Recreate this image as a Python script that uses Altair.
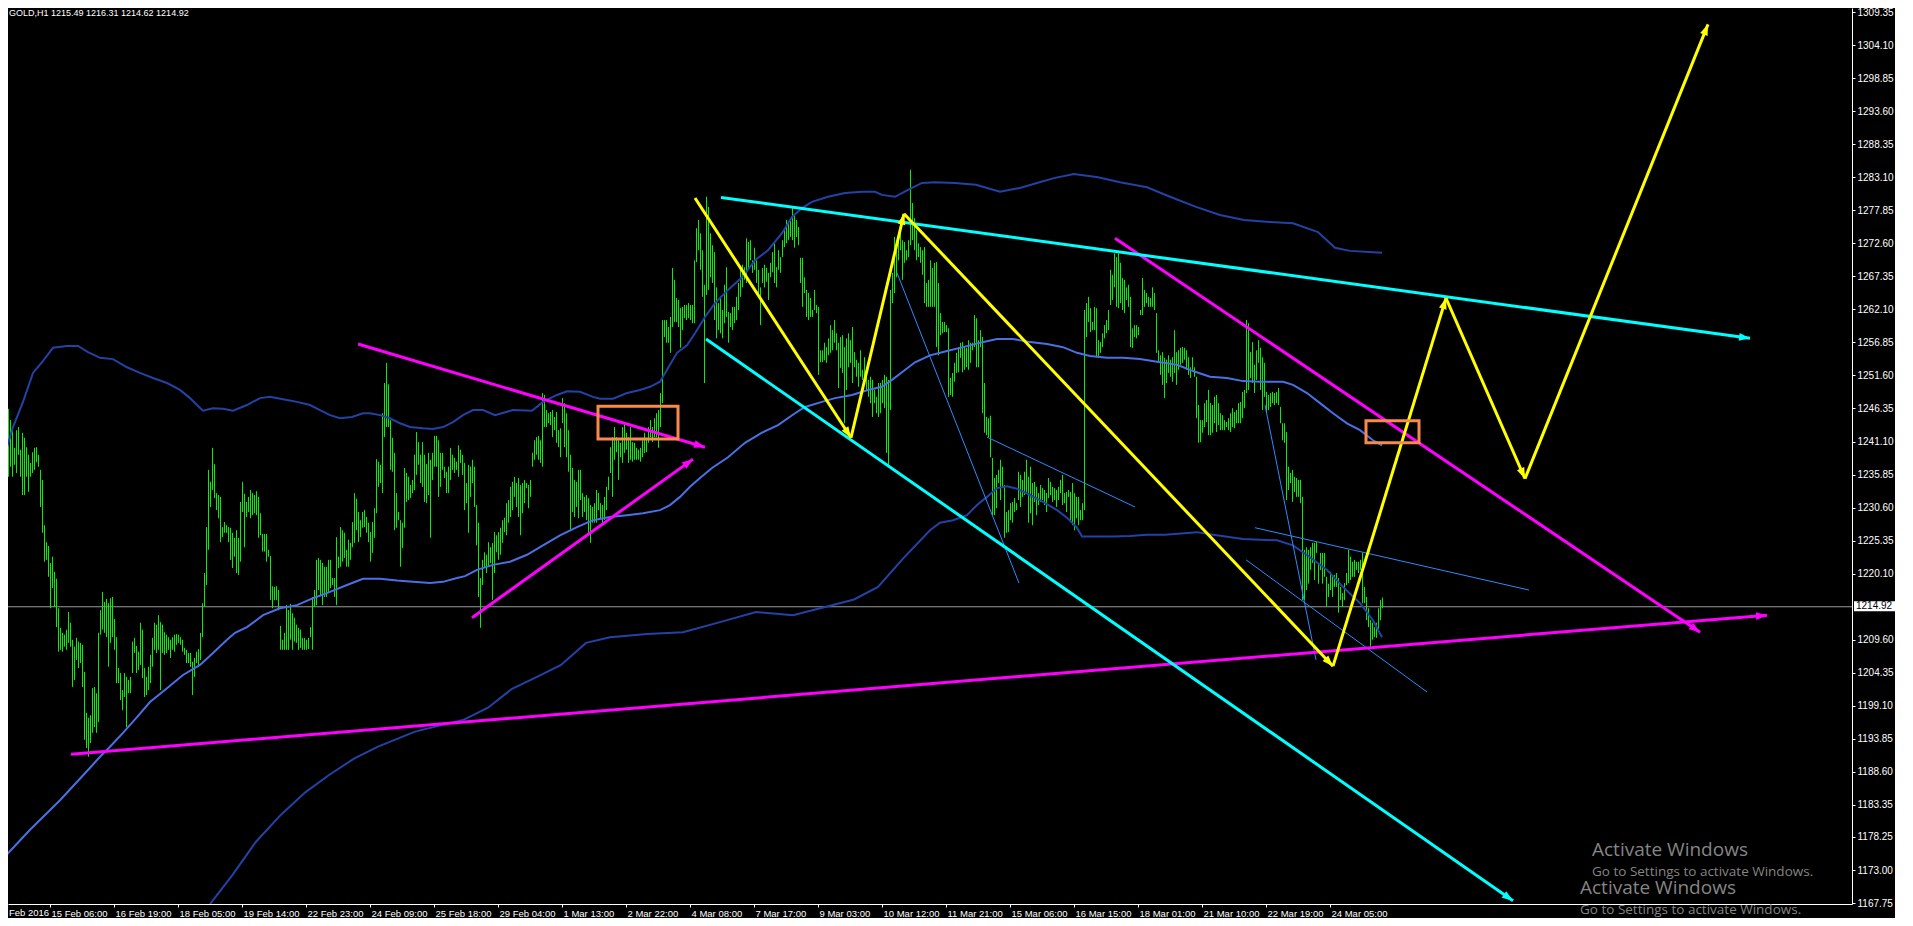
import math
import altair as alt
import pandas as pd

# ---------------- data ----------------
SYMBOL = "GOLD,H1"
LAST_OPEN, LAST_HIGH, LAST_LOW, LAST_CLOSE = 1215.49, 1216.31, 1214.62, 1214.92

# hourly bar highs / lows (bar index 0 .. 691)
HIGH = [
1239.0,1238.6,1238.4,1240.1,1246.3,1244.5,1242.9,1240.1,1242.9,1243.4,
1239.8,1242.5,1241.7,1240.2,1239.0,1237.7,1239.4,1240.1,1240.2,1239.0,
1236.6,1235.0,1227.8,1225.1,1224.5,1221.8,1222.8,1220.4,1219.3,1214.6,
1211.5,1210.7,1210.4,1211.2,1214.0,1212.3,1209.6,1208.5,1209.9,1209.3,
1209.1,1208.8,1204.5,1198.0,1197.2,1197.6,1201.9,1202.1,1201.1,1210.7,
1214.3,1217.2,1215.6,1216.1,1215.4,1216.2,1216.4,1212.9,1210.0,1205.1,
1204.3,1201.6,1204.3,1203.7,1203.2,1203.7,1209.3,1209.9,1208.6,1207.7,
1212.3,1211.2,1205.1,1203.7,1205.3,1207.2,1209.9,1212.3,1212.0,1213.5,
1212.4,1212.0,1210.8,1210.4,1210.0,1209.6,1210.0,1210.4,1210.5,1210.4,
1210.0,1209.6,1208.3,1208.0,1207.5,1207.5,1206.1,1206.7,1207.7,1208.1,
1210.7,1215.4,1220.2,1227.5,1236.6,1234.7,1240.1,1237.5,1232.9,1232.6,
1232.3,1227.5,1228.3,1227.8,1227.5,1227.4,1226.6,1225.8,1227.0,1225.8,
1231.5,1234.7,1232.8,1231.5,1232.3,1233.4,1232.9,1232.6,1233.2,1232.3,
1229.7,1226.4,1226.4,1226.4,1223.9,1222.9,1218.1,1218.0,1218.1,1217.5,
1211.8,1209.6,1210.7,1215.1,1214.3,1215.3,1213.8,1213.1,1212.0,1211.5,
1211.2,1209.9,1209.9,1209.6,1209.9,1211.6,1216.4,1217.5,1222.3,1222.6,
1222.3,1221.8,1221.2,1221.2,1222.3,1222.3,1219.4,1219.4,1225.9,1222.8,
1227.5,1227.0,1226.6,1223.9,1225.5,1225.0,1228.3,1232.9,1232.0,1229.9,
1228.6,1229.9,1230.2,1229.1,1228.2,1226.7,1228.3,1230.5,1238.3,1237.9,
1237.4,1245.6,1250.4,1253.6,1250.2,1244.5,1241.7,1239.3,1232.9,1229.9,
1228.6,1228.2,1236.9,1236.1,1235.5,1234.2,1235.0,1239.0,1242.6,1241.0,
1239.0,1241.0,1239.0,1237.5,1239.3,1238.2,1239.3,1242.0,1242.0,1241.3,
1239.3,1239.3,1237.1,1236.3,1237.1,1240.1,1239.0,1238.5,1237.9,1240.5,
1239.8,1239.0,1237.7,1234.5,1237.4,1237.1,1238.2,1237.1,1231.0,1228.2,
1219.4,1222.3,1223.5,1223.1,1225.1,1224.3,1225.0,1226.7,1226.2,1226.7,
1227.4,1228.6,1229.0,1231.3,1231.8,1233.9,1234.7,1235.5,1234.5,1235.3,
1234.2,1234.5,1235.0,1234.5,1234.2,1235.0,1239.3,1241.3,1241.8,1242.0,
1241.3,1248.8,1248.5,1246.1,1245.6,1245.8,1246.1,1245.0,1245.8,1242.9,
1243.2,1248.0,1247.2,1245.6,1242.9,1239.0,1236.9,1235.0,1234.7,1236.6,
1236.6,1232.9,1232.3,1232.6,1232.1,1231.0,1230.7,1231.3,1233.4,1232.9,
1231.3,1231.0,1232.3,1233.9,1235.5,1240.2,1241.8,1243.4,1241.8,1241.3,
1240.9,1243.4,1244.0,1242.5,1241.8,1243.4,1241.0,1240.9,1240.1,1239.8,
1240.1,1241.3,1242.5,1241.7,1243.4,1244.5,1243.4,1244.8,1245.6,1246.1,
1248.8,1260.4,1260.4,1260.4,1259.3,1260.9,1268.7,1266.8,1263.9,1263.6,
1262.3,1262.5,1262.8,1262.8,1263.1,1262.8,1262.8,1269.9,1275.0,1276.3,
1274.2,1271.5,1266.0,1280.0,1278.4,1274.2,1272.3,1271.2,1265.6,1263.1,
1264.1,1262.0,1266.0,1268.8,1261.7,1261.5,1262.5,1262.5,1264.1,1266.3,
1268.4,1269.2,1268.8,1273.4,1272.8,1273.1,1269.9,1271.9,1269.9,1268.4,
1265.6,1268.7,1269.2,1268.7,1267.9,1269.5,1271.2,1272.6,1268.8,1271.5,
1270.4,1273.1,1275.0,1276.3,1276.0,1276.6,1278.2,1277.1,1276.3,1275.2,
1270.3,1270.3,1267.2,1265.2,1264.7,1263.9,1262.0,1265.2,1262.8,1262.5,
1255.6,1255.6,1256.8,1256.1,1257.5,1259.6,1258.8,1260.4,1258.3,1256.8,
1257.7,1258.0,1256.1,1257.5,1258.3,1257.2,1259.3,1255.3,1254.1,1253.6,
1255.6,1252.5,1254.5,1251.7,1250.9,1251.4,1250.9,1249.3,1248.2,1250.4,
1250.4,1250.9,1251.7,1251.4,1250.9,1265.2,1267.9,1273.6,1271.5,1273.6,
1274.7,1273.1,1272.8,1271.5,1273.1,1284.3,1279.0,1276.6,1274.7,1272.6,
1272.0,1271.5,1272.0,1266.3,1266.8,1269.9,1268.7,1269.5,1269.6,1266.3,
1261.5,1260.1,1260.1,1259.6,1259.1,1251.2,1252.0,1253.6,1255.2,1256.1,
1256.8,1256.9,1256.1,1256.0,1257.2,1256.8,1256.8,1261.2,1260.7,1257.2,
1258.8,1257.7,1250.4,1245.0,1244.8,1245.2,1238.5,1235.3,1235.8,1236.6,
1238.2,1237.1,1234.2,1229.9,1230.2,1231.3,1231.5,1232.1,1231.3,1236.3,
1235.8,1235.0,1236.3,1238.2,1235.5,1237.1,1234.5,1234.7,1233.9,1232.9,
1234.2,1233.7,1233.4,1232.9,1235.3,1234.7,1233.9,1233.7,1233.4,1233.9,
1235.0,1235.8,1232.9,1233.1,1233.4,1233.1,1234.5,1232.9,1232.3,1232.3,
1230.2,1231.3,1262.0,1263.1,1264.1,1262.3,1260.1,1262.5,1262.3,1257.2,
1256.9,1258.3,1259.6,1260.4,1262.0,1268.4,1267.6,1271.0,1270.4,1271.0,
1269.5,1267.1,1266.8,1265.6,1266.0,1264.1,1259.1,1259.6,1259.6,1259.3,
1262.0,1267.1,1265.2,1264.7,1264.1,1263.9,1265.6,1264.7,1261.5,1255.6,
1254.8,1255.3,1254.4,1254.1,1254.8,1254.1,1254.5,1258.8,1255.3,1255.6,
1256.0,1256.1,1256.0,1255.6,1254.5,1252.9,1254.5,1252.9,1251.4,1246.9,
1244.5,1244.5,1247.2,1247.7,1249.3,1247.2,1246.9,1248.2,1248.5,1247.2,
1245.6,1245.3,1244.5,1244.2,1244.8,1245.6,1246.4,1245.8,1246.1,1247.2,
1247.4,1249.0,1249.3,1260.4,1259.9,1255.3,1256.9,1253.3,1255.6,1257.2,
1256.0,1254.5,1253.6,1249.0,1248.5,1248.8,1249.0,1248.8,1249.0,1249.6,
1246.6,1244.0,1244.0,1242.6,1237.1,1236.1,1236.6,1235.5,1235.3,1235.0,
1235.0,1232.3,1223.9,1224.3,1223.9,1224.3,1225.0,1225.0,1225.1,1221.8,
1223.4,1223.4,1223.4,1219.6,1218.5,1220.4,1219.9,1219.9,1220.2,1219.4,
1218.0,1217.0,1218.6,1220.2,1223.9,1222.8,1222.0,1222.3,1222.0,1222.0,
1222.3,1223.4,1218.0,1216.4,1214.6,1212.7,1212.3,1211.6,1212.3,1214.6,
1215.9,1216.3]

LOW = [
1236.1,1233.1,1232.6,1232.6,1235.5,1237.1,1235.5,1237.4,1236.1,1239.0,
1235.5,1232.6,1232.6,1235.5,1233.1,1235.5,1236.1,1236.6,1237.8,1237.1,
1230.7,1226.6,1222.0,1222.3,1219.6,1214.6,1217.8,1214.8,1211.6,1207.7,
1208.0,1207.7,1208.5,1208.0,1209.1,1208.5,1202.1,1203.2,1206.4,1205.1,
1205.9,1202.1,1193.7,1192.4,1191.0,1193.2,1194.8,1195.7,1194.8,1196.5,
1210.4,1211.2,1210.7,1210.0,1205.3,1209.1,1210.0,1208.0,1202.7,1202.7,
1200.0,1198.4,1200.5,1195.7,1201.1,1201.1,1204.3,1207.5,1204.3,1204.8,
1205.6,1203.5,1200.5,1200.8,1201.6,1202.7,1205.3,1208.0,1207.5,1208.0,
1201.6,1207.5,1207.2,1207.5,1208.0,1206.7,1208.0,1207.7,1208.8,1209.1,
1208.8,1207.7,1207.2,1205.9,1205.9,1205.3,1200.8,1203.7,1205.9,1205.3,
1206.4,1210.0,1214.8,1218.3,1223.9,1230.7,1233.4,1232.1,1230.2,1228.9,
1225.1,1225.9,1226.6,1226.6,1225.1,1222.3,1221.0,1222.8,1220.2,1219.9,
1222.0,1229.9,1224.3,1229.1,1229.9,1228.9,1229.4,1229.7,1229.4,1225.8,
1226.2,1223.6,1223.6,1222.0,1222.8,1215.9,1214.6,1215.9,1215.9,1214.3,
1208.0,1208.0,1208.0,1208.0,1208.0,1209.6,1208.0,1209.3,1209.1,1208.0,
1208.3,1208.0,1208.0,1208.0,1208.1,1210.0,1208.0,1214.8,1215.1,1217.5,
1216.7,1215.1,1216.4,1216.4,1217.2,1217.8,1218.3,1216.4,1215.1,1221.0,
1221.2,1222.0,1222.6,1221.2,1221.2,1222.3,1224.3,1225.0,1227.0,1225.1,
1225.9,1227.4,1227.5,1226.6,1225.1,1222.0,1223.4,1225.8,1229.7,1233.9,
1234.5,1232.9,1241.8,1243.4,1243.4,1236.6,1236.3,1227.0,1227.4,1228.6,
1221.2,1224.2,1227.4,1231.5,1231.8,1232.1,1232.9,1233.4,1235.8,1237.4,
1234.5,1233.9,1231.5,1231.3,1232.6,1225.8,1235.0,1237.1,1237.1,1232.3,
1233.9,1236.6,1235.3,1232.9,1232.9,1235.0,1236.6,1236.1,1236.6,1235.5,
1237.7,1235.8,1230.2,1231.3,1226.6,1232.3,1234.5,1230.7,1224.6,1216.4,
1211.5,1218.3,1221.0,1220.2,1221.2,1221.8,1215.9,1220.2,1223.5,1222.3,
1223.1,1225.0,1226.7,1226.2,1228.2,1229.1,1230.2,1232.3,1230.7,1229.1,
1226.2,1229.7,1231.3,1233.7,1230.5,1232.3,1237.1,1238.2,1239.0,1238.2,
1237.7,1237.1,1243.4,1243.4,1244.0,1243.7,1241.8,1242.9,1240.9,1240.2,
1238.6,1244.0,1240.2,1238.6,1236.3,1227.0,1229.9,1229.1,1230.7,1228.9,
1231.8,1229.1,1229.9,1228.6,1226.6,1225.0,1228.2,1228.2,1228.2,1230.2,
1228.9,1227.8,1228.6,1230.2,1233.4,1236.1,1232.3,1238.2,1239.4,1235.0,
1238.6,1237.7,1239.3,1239.8,1237.7,1238.2,1237.9,1238.2,1238.2,1238.2,
1237.9,1238.6,1239.3,1239.4,1240.9,1241.8,1241.0,1241.8,1241.8,1240.1,
1243.4,1247.2,1257.7,1256.8,1256.8,1255.2,1259.3,1260.1,1260.1,1259.3,
1256.0,1258.8,1260.7,1260.4,1260.7,1260.4,1259.9,1259.9,1269.6,1271.5,
1268.4,1264.1,1250.4,1264.4,1265.2,1267.2,1266.3,1260.4,1257.5,1258.8,
1258.3,1257.5,1259.9,1260.9,1256.8,1259.3,1258.8,1259.9,1260.4,1262.0,
1264.1,1265.6,1266.8,1266.3,1268.4,1269.9,1267.9,1268.4,1266.3,1264.1,
1259.6,1266.3,1265.6,1266.5,1263.6,1267.2,1268.0,1266.3,1265.6,1268.4,
1267.9,1270.4,1272.0,1272.6,1273.1,1273.6,1273.1,1271.9,1273.6,1272.3,
1266.3,1262.5,1264.7,1260.9,1260.4,1260.9,1260.9,1262.0,1261.5,1251.7,
1253.7,1253.7,1254.0,1253.6,1254.8,1255.2,1255.6,1256.8,1255.6,1249.6,
1252.8,1252.0,1244.0,1249.3,1252.9,1253.6,1250.4,1252.9,1251.4,1249.8,
1251.4,1250.9,1250.4,1249.3,1248.2,1247.2,1245.0,1247.2,1245.6,1245.0,
1245.6,1247.2,1246.4,1239.3,1237.4,1246.1,1263.1,1264.7,1267.2,1269.9,
1271.5,1266.8,1269.5,1269.9,1270.4,1272.3,1273.1,1271.5,1269.9,1270.4,
1269.5,1267.6,1263.1,1262.5,1262.5,1262.5,1262.5,1262.5,1256.1,1254.8,
1258.0,1258.3,1258.5,1258.5,1248.2,1248.5,1248.2,1250.6,1252.0,1252.1,
1254.4,1252.1,1252.5,1252.9,1252.5,1253.6,1255.6,1256.1,1252.9,1252.9,
1256.1,1245.6,1242.5,1242.1,1241.8,1238.6,1229.4,1229.4,1230.5,1234.5,
1231.8,1233.9,1225.8,1226.6,1226.7,1228.6,1228.2,1229.9,1230.2,1231.8,
1230.7,1232.3,1232.6,1233.1,1228.2,1229.7,1227.8,1231.5,1229.4,1231.0,
1231.5,1231.8,1231.0,1229.9,1232.1,1232.6,1231.5,1231.8,1230.7,1231.8,
1232.9,1231.0,1231.3,1229.9,1232.3,1228.6,1227.8,1227.0,1228.9,1227.8,
1228.6,1228.6,1230.2,1257.7,1260.1,1258.5,1258.8,1258.8,1254.5,1254.5,
1255.2,1256.1,1257.5,1258.3,1258.8,1262.8,1263.6,1265.6,1262.5,1262.3,
1263.1,1262.0,1261.5,1263.6,1262.5,1256.1,1256.0,1257.7,1257.5,1258.0,
1261.2,1261.2,1262.5,1263.1,1262.5,1262.5,1262.5,1262.0,1255.2,1253.6,
1251.7,1250.1,1248.0,1250.4,1252.0,1251.4,1250.6,1252.0,1250.1,1252.5,
1253.3,1253.6,1254.1,1252.5,1251.7,1251.2,1252.5,1251.4,1244.8,1240.9,
1241.0,1242.5,1243.4,1244.2,1242.1,1242.1,1242.5,1244.0,1242.6,1243.7,
1242.9,1242.9,1242.9,1243.4,1242.9,1242.6,1243.4,1243.2,1244.0,1244.0,
1244.0,1244.8,1246.4,1248.8,1249.3,1251.2,1250.4,1248.8,1250.9,1253.6,
1249.3,1246.1,1248.2,1245.6,1246.1,1246.6,1247.2,1246.9,1247.2,1246.9,
1244.0,1241.3,1240.9,1231.8,1233.4,1234.5,1231.5,1233.1,1232.3,1232.3,
1231.3,1215.9,1215.9,1217.5,1218.5,1220.7,1221.8,1219.1,1223.4,1218.5,
1220.7,1218.5,1219.6,1214.8,1216.4,1217.5,1216.4,1218.0,1218.0,1213.9,
1215.9,1214.8,1215.9,1218.3,1218.6,1219.1,1219.6,1219.6,1220.7,1220.2,
1220.7,1215.4,1215.4,1212.7,1211.6,1208.5,1209.6,1210.0,1209.9,1211.2,
1212.7,1214.6]

# Bollinger bands (bar index, price)
UPPER_BAR = [0,3.5,6.5,11.5,16.5,21,26.5,33.5,39,44,50,56.5,63.5,70,76.5,83.5,90,95,98.5,101.5,
106.5,111.5,116.5,123.5,130,135,143.5,148.5,155,160,165,170,176,181.5,185,190,195,200,205,211.5,
216.5,221.5,226.5,231.5,236.5,241.5,247.5,256.5,266,271.5,278.5,283.5,290,296.5,300,306.5,313.5,320,325,330,
333.5,338.5,343.5,347.5,352.5,357.5,364,371,377.5,384,391,396,401,406,414,422.5,431,437.5,441,447.5,
454,461,467.5,477.5,488,500,510,518.5,527.5,537,549,560,573.5,585,598,610,622,635,646.5,659,667.5,675,691]
UPPER_PRICE = [1236.9,1240.2,1243.4,1247.4,1252.0,1253.7,1256.0,1256.3,1256.3,1255.3,
1254.4,1254.2,1252.9,1252.0,1251.2,1250.4,1249.3,1248.0,1246.9,1246.0,
1246.4,1246.3,1246.0,1246.9,1248.0,1248.2,1247.7,1247.4,1246.9,1246.1,
1245.3,1244.8,1245.0,1245.6,1245.6,1245.3,1244.8,1244.0,1243.4,1243.2,
1243.1,1243.4,1244.2,1245.3,1246.1,1246.1,1245.3,1246.1,1246.0,1247.4,
1248.5,1249.1,1249.0,1248.2,1247.9,1247.9,1248.8,1249.3,1249.8,1250.6,
1252.5,1255.2,1256.4,1258.3,1260.9,1263.1,1265.2,1267.2,1269.9,1271.5,
1274.2,1276.8,1278.2,1279.2,1280.0,1280.6,1280.8,1280.8,1280.3,1280.0,
1281.1,1282.2,1282.3,1282.2,1281.9,1280.8,1281.4,1282.2,1283.0,1283.6,
1283.1,1282.3,1281.5,1280.0,1278.4,1277.1,1276.3,1276.0,1275.8,1274.4,
1271.9,1271.4,1271.1]
MIDDLE_BAR = [0,15,30,44,50,55,61.5,68.5,75,83.5,91.5,100,106.5,113.5,117.5,123.5,131.5,140,148.5,156.5,
165,173.5,181.5,190,198.5,206.5,215,221.5,228.5,232.5,238.5,246.5,255,263.5,271.5,280,288.5,296.5,305,313.5,
321.5,330,335,340,345,350,356,364,372.5,381,389,397.5,402.5,411,417.5,426,434,441,446,451,
457.5,465,473.5,481.5,490,498.5,506.5,515,523.5,531.5,538.5,545,553.5,561.5,570,580,588.5,596.5,605,613.5,
621.5,630,641.5,646.5,653.5,660,666.5,673.5,680,686.5,691]
MIDDLE_PRICE = [1174.3,1179.4,1184.1,1188.9,1191.0,1192.6,1194.8,1197.3,1199.7,1201.9,
1204.0,1205.6,1207.5,1209.6,1210.7,1211.6,1213.5,1214.6,1215.1,1216.2,
1217.2,1218.3,1219.3,1219.3,1219.0,1218.8,1218.6,1218.8,1219.4,1219.7,
1220.7,1221.5,1222.0,1223.1,1224.6,1226.2,1227.5,1228.6,1229.1,1229.4,
1229.7,1230.2,1231.0,1232.3,1233.9,1235.3,1236.9,1238.6,1240.9,1242.5,
1243.7,1245.6,1246.6,1247.4,1248.0,1248.5,1249.3,1249.8,1250.9,1252.1,
1253.7,1254.8,1255.5,1256.1,1256.8,1257.4,1257.4,1256.9,1256.6,1256.1,
1255.2,1254.7,1254.4,1254.4,1254.2,1253.7,1253.3,1252.3,1251.4,1251.2,
1250.7,1250.6,1250.6,1250.1,1248.8,1247.2,1245.6,1244.0,1242.9,1241.3,
1240.5]
LOWER_BAR = [105,116,128,140.5,152.5,164.5,177,189,207.5,232,244,256,268.5,280.5,293,305,323.5,341.5,360,378,
396.5,415,427,439,451.5,465,470,476.5,483.5,488.5,493.5,498.5,503.5,508.5,515,521.5,528.5,533.5,538.5,541,
548.5,556.5,565,573.5,582.5,598.5,606.5,621.5,638.5,646.5,655,663.5,671.5,680,686.5,691]
LOWER_PRICE = [1167.6,1172.1,1177.5,1181.8,1185.3,1188.1,1190.7,1192.6,1195.0,1196.9,
1198.8,1201.8,1203.7,1205.6,1209.1,1210.0,1210.5,1210.8,1212.4,1214.0,
1213.5,1215.0,1216.0,1218.0,1222.5,1227.0,1228.2,1228.6,1229.4,1231.0,
1232.3,1233.7,1234.0,1233.6,1232.6,1231.5,1230.2,1229.0,1227.4,1226.0,
1226.0,1226.0,1226.1,1226.3,1226.3,1226.7,1226.3,1225.6,1225.4,1224.6,
1222.7,1220.7,1218.0,1215.4,1212.7,1210.0]

# drawn objects: (bar1, price1, bar2, price2)
MAGENTA_ARROWS = [(179, 1256.6, 352.5, 1240.2), (236, 1213.1, 346.5, 1238.3),
                  (35.5, 1191.4, 883.5, 1213.5), (557.5, 1273.4, 850, 1210.8)]
CYAN_ARROWS = [(360.5, 1279.9, 875, 1257.5), (353, 1257.4, 756.5, 1168.1)]
ZIGZAG_BAR = [347.5, 425.5, 452, 666.5, 723, 762.5, 854]
ZIGZAG_PRICE = [1279.8, 1241.7, 1277.3, 1205.4, 1263.9, 1235.2, 1307.4]
THIN_LINES = [(448.5, 1267.9, 509.5, 1218.6), (493.5, 1241.8, 567.5, 1230.7),
              (627.5, 1227.4, 764.5, 1217.5), (623, 1222.3, 713.5, 1201.3),
              (632.5, 1246.9, 658, 1206.4)]
BOXES = [(299, 1246.7, 339, 1241.5), (683, 1244.4, 709.5, 1240.9)]

PRICE_TICKS = [1309.35, 1304.10, 1298.85, 1293.60, 1288.35, 1283.10, 1277.85, 1272.60,
               1267.35, 1262.10, 1256.85, 1251.60, 1246.35, 1241.10, 1235.85, 1230.60,
               1225.35, 1220.10, 1209.60, 1204.35, 1199.10, 1193.85, 1188.60, 1183.35,
               1178.25, 1173.00, 1167.75]
TIME_TICK_BARS = [25, 57, 89, 121, 153, 185, 217, 249, 281, 313, 345, 377, 409, 441,
                  473, 505, 537, 569, 601, 633, 665]
TIME_TICK_LABELS = ["15 Feb 06:00", "16 Feb 19:00", "18 Feb 05:00", "19 Feb 14:00",
                    "22 Feb 23:00", "24 Feb 09:00", "25 Feb 18:00", "29 Feb 04:00",
                    "1 Mar 13:00", "2 Mar 22:00", "4 Mar 08:00", "7 Mar 17:00",
                    "9 Mar 03:00", "10 Mar 12:00", "11 Mar 21:00", "15 Mar 06:00",
                    "16 Mar 15:00", "18 Mar 01:00", "21 Mar 10:00", "22 Mar 19:00",
                    "24 Mar 05:00"]
FIRST_DATE_LABEL = "Feb 2016"
WATERMARK_1 = "Activate Windows"
WATERMARK_2 = "Go to Settings to activate Windows."

# ---------------- layout / style ----------------
W, H = 1844, 896
X_DOMAIN = [4, 926]
Y_DOMAIN = [1167.6, 1310.0]
PX_PER_BAR = W / (X_DOMAIN[1] - X_DOMAIN[0])
PX_PER_PRICE = H / (Y_DOMAIN[1] - Y_DOMAIN[0])
FONT = "Liberation Sans"
GREEN = "#12e612"
BAND_DARK = "#2342a6"
BAND_MID = "#4a70e6"
THIN_BLUE = "#2a8cff"
MAGENTA = "#ff00ff"
CYAN = "#00ffff"
YELLOW = "#ffff00"
ORANGE = "#f88a4a"
ARROW_PATH = "M0,0L-0.36,1L0.36,1Z"

XS = alt.Scale(domain=X_DOMAIN, nice=False, zero=False)
YS = alt.Scale(domain=Y_DOMAIN, nice=False, zero=False)

labels_js = "[" + ",".join("'" + t + "'" for t in TIME_TICK_LABELS) + "]"
bars_js = "[" + ",".join(str(b) for b in TIME_TICK_BARS) + "]"
X_AXIS = alt.Axis(values=TIME_TICK_BARS, labelExpr=f"{labels_js}[indexof({bars_js}, datum.value)]",
                  orient="bottom", domainColor="white", domainWidth=1, tickColor="white",
                  tickSize=3, labelColor="white", labelFont=FONT, labelFontSize=9.5,
                  labelAlign="left", labelBaseline="top", labelPadding=1, labelOffset=1,
                  labelOverlap=False, labelFlush=False, grid=False, title=None)
Y_AXIS = alt.Axis(values=PRICE_TICKS, format=".2f", orient="right", domainColor="white",
                  domainWidth=1, tickColor="white", tickSize=3, labelColor="white",
                  labelFont=FONT, labelFontSize=10, labelAlign="left", labelBaseline="middle",
                  labelPadding=2, labelOverlap=False, labelFlush=False, grid=False, title=None)


def X(f):
    return alt.X(f, type="quantitative", scale=XS, axis=X_AXIS)


def Y(f):
    return alt.Y(f, type="quantitative", scale=YS, axis=Y_AXIS)


# ---------------- frames ----------------
n = min(len(HIGH), len(LOW))
bars_df = pd.DataFrame({"bar": list(range(n)), "high": HIGH[:n], "low": LOW[:n]})

band_rows = []
for name, bx, py, col in [("upper", UPPER_BAR, UPPER_PRICE, BAND_DARK),
                          ("middle", MIDDLE_BAR, MIDDLE_PRICE, BAND_MID),
                          ("lower", LOWER_BAR, LOWER_PRICE, BAND_DARK)]:
    for i, (b, p) in enumerate(zip(bx, py)):
        band_rows.append({"band": name, "seq": i, "bar": b, "price": p, "col": col})
band_df = pd.DataFrame(band_rows)


def head_angle(x1, p1, x2, p2):
    dx = (x2 - x1) * PX_PER_BAR
    dy = -(p2 - p1) * PX_PER_PRICE
    return math.degrees(math.atan2(dx, -dy)) % 360


seg_rows = []
for (x1, p1, x2, p2) in MAGENTA_ARROWS:
    seg_rows.append({"x1": x1, "p1": p1, "x2": x2, "p2": p2, "col": MAGENTA})
for (x1, p1, x2, p2) in CYAN_ARROWS:
    seg_rows.append({"x1": x1, "p1": p1, "x2": x2, "p2": p2, "col": CYAN})
for i in range(len(ZIGZAG_BAR) - 1):
    seg_rows.append({"x1": ZIGZAG_BAR[i], "p1": ZIGZAG_PRICE[i],
                     "x2": ZIGZAG_BAR[i + 1], "p2": ZIGZAG_PRICE[i + 1], "col": YELLOW})
seg_df = pd.DataFrame(seg_rows)
head_df = pd.DataFrame([{"x": r["x2"], "p": r["p2"], "col": r["col"],
                         "angle": head_angle(r["x1"], r["p1"], r["x2"], r["p2"])} for r in seg_rows])

thin_df = pd.DataFrame([{"x1": a, "p1": b, "x2": c, "p2": d} for (a, b, c, d) in THIN_LINES])
box_df = pd.DataFrame([{"x1": a, "p1": b, "x2": c, "p2": d} for (a, b, c, d) in BOXES])
last_df = pd.DataFrame({"price": [LAST_CLOSE], "top": [LAST_CLOSE + 0.8], "bot": [LAST_CLOSE - 0.8],
                        "label": [f"{LAST_CLOSE:.2f}"]})
header_df = pd.DataFrame({"t": [f"{SYMBOL}  {LAST_OPEN:.2f} {LAST_HIGH:.2f} {LAST_LOW:.2f} {LAST_CLOSE:.2f}"]})

# ---------------- layers ----------------
price_line = alt.Chart(last_df).mark_rule(color="#9a9a9a", strokeWidth=1, yOffset=0.5).encode(y=Y("price"))

bars = alt.Chart(bars_df).mark_rule(color=GREEN, strokeWidth=1, xOffset=0.5).encode(
    x=X("bar"), y=Y("low"), y2="high")

bands = alt.Chart(band_df).mark_line(strokeWidth=2, clip=True).encode(
    x=X("bar"), y=Y("price"), detail="band:N", order="seq:Q",
    color=alt.Color("col:N", scale=None))

thin = alt.Chart(thin_df).mark_rule(color=THIN_BLUE, strokeWidth=1).encode(
    x=X("x1"), y=Y("p1"), x2="x2", y2="p2")

segs = alt.Chart(seg_df).mark_rule(strokeWidth=3).encode(
    x=X("x1"), y=Y("p1"), x2="x2", y2="p2", color=alt.Color("col:N", scale=None))

heads = alt.Chart(head_df).mark_point(shape=ARROW_PATH, size=484, filled=True, opacity=1,
                                      strokeWidth=0).encode(
    x=X("x"), y=Y("p"), angle=alt.Angle("angle:Q", scale=None),
    color=alt.Color("col:N", scale=None))

boxes = alt.Chart(box_df).mark_rect(fillOpacity=0, stroke=ORANGE, strokeWidth=3).encode(
    x=X("x1"), x2="x2", y=Y("p1"), y2="p2")

last_box = alt.Chart(last_df).mark_rect(color="white").encode(
    x=alt.value(W + 2), x2=alt.value(W + 43), y=Y("top"), y2="bot")
last_txt = alt.Chart(last_df).mark_text(color="black", align="left", baseline="middle",
                                         font=FONT, fontSize=10).encode(
    x=alt.value(W + 4), y=Y("price"), text="label:N")

header = alt.Chart(header_df).mark_text(color="white", align="left", baseline="middle",
                                        font=FONT, fontSize=9).encode(
    x=alt.value(1), y=alt.value(5), text="t:N")

first_lbl = alt.Chart(pd.DataFrame({"t": [FIRST_DATE_LABEL]})).mark_text(
    color="white", align="left", baseline="top", font=FONT, fontSize=9.5).encode(
    x=alt.value(1), y=alt.value(H + 4), text="t:N")

wm = pd.DataFrame({"t": [WATERMARK_1, WATERMARK_2, WATERMARK_1, WATERMARK_2],
                   "px": [1584, 1584, 1572, 1572], "py": [842, 864, 880, 902],
                   "fs": [19, 13.5, 19, 13.5]})
watermark = alt.Chart(wm).mark_text(color="#858585", align="left", baseline="middle",
                                    font="Open Sans").encode(
    x=alt.X("px:Q", scale=None), y=alt.Y("py:Q", scale=None),
    size=alt.Size("fs:Q", scale=None), text="t:N")

chart = alt.layer(price_line, bars, bands, thin, segs, heads, boxes, last_box, last_txt,
                  header, first_lbl, watermark).properties(
    width=W, height=H, background="black",
    padding={"left": 0, "top": 0, "right": 43, "bottom": 14},
    autosize=alt.AutoSizeParams(type="none"),
).configure_view(stroke=None)

chart.save("out.html", embed_options={"renderer": "svg", "actions": False})
